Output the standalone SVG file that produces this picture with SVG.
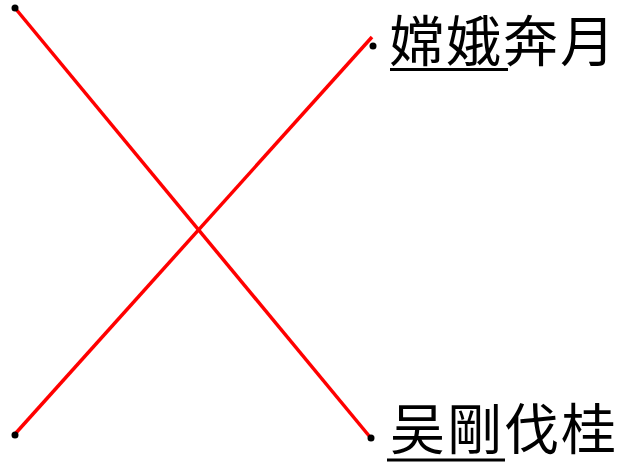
<svg xmlns="http://www.w3.org/2000/svg" width="626" height="464" viewBox="0 0 626 464">
<style>
.ln{stroke:#ff0000;stroke-width:3.5;fill:none}
.dot{fill:#000}
.lbl{font-family:"Noto Sans CJK SC","Noto Sans CJK TC",sans-serif;font-size:55px;letter-spacing:2px;fill:#000}
.ul{stroke:#000;stroke-width:3}
</style>
<g id="connectors">
<line class="ln" x1="15" y1="8" x2="370" y2="437"/>
<line class="ln" x1="15" y1="434" x2="372" y2="37"/>
</g>
<g id="p1"><circle class="dot" cx="15" cy="8" r="3.5"/></g>
<g id="p2"><circle class="dot" cx="15" cy="435" r="3.5"/></g>
<g id="p3"><circle class="dot" cx="373" cy="46" r="3.5"/></g>
<g id="p4"><circle class="dot" cx="371" cy="438" r="3.5"/></g>
<g id="label1">
<text class="lbl" x="389" y="61">嫦娥奔月</text>
<line class="ul" x1="390" y1="69.5" x2="508" y2="69.5"/>
</g>
<g id="label2">
<text class="lbl" x="390" y="449">吴剛伐桂</text>
<line class="ul" x1="387" y1="460" x2="505" y2="460"/>
</g>
</svg>
